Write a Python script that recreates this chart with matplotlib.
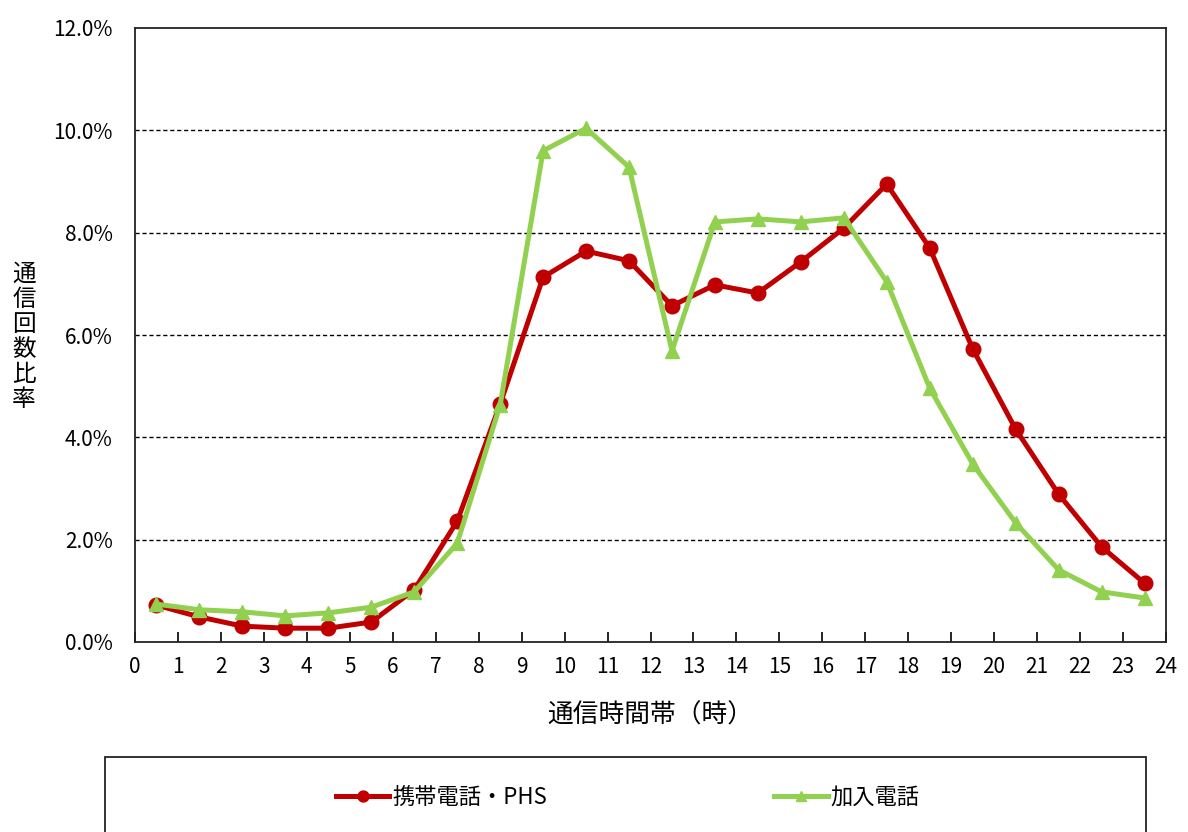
import matplotlib
matplotlib.use("Agg")
import matplotlib.pyplot as plt
from matplotlib.patches import Rectangle
from matplotlib.ticker import FuncFormatter

plt.rcParams['font.family'] = ['Noto Sans CJK JP', 'DejaVu Sans']

# Hourly call share (%), plotted at the middle of each hour
hours = [h + 0.5 for h in range(24)]
mobile = [0.72, 0.49, 0.31, 0.27, 0.27, 0.39, 1.02, 2.36, 4.65, 7.13, 7.64, 7.45,
          6.57, 6.98, 6.82, 7.43, 8.09, 8.95, 7.70, 5.73, 4.16, 2.89, 1.86, 1.15]
fixed = [0.74, 0.63, 0.59, 0.51, 0.57, 0.68, 0.98, 1.93, 4.63, 9.60, 10.04, 9.28,
         5.69, 8.21, 8.27, 8.21, 8.29, 7.04, 4.96, 3.48, 2.33, 1.41, 0.98, 0.86]
series_names = ['携帯電話・PHS', '加入電話']
x_ticks = list(range(25))
y_ticks = [0, 2, 4, 6, 8, 10, 12]

W, H = 1188, 832
fig = plt.figure(figsize=(W / 100, H / 100), dpi=100)
ax = fig.add_axes([135 / W, 1 - 642 / H, (1166 - 135) / W, (642 - 28) / H])

red = '#C00000'
green = '#92D050'
l1, = ax.plot(hours, mobile, color=red, lw=3.6, marker='o', ms=10.5,
              label=series_names[0], zorder=3)
l2, = ax.plot(hours, fixed, color=green, lw=3.6, marker='^', ms=10.5,
              label=series_names[1], zorder=4)

ax.set_xlim(0, 24)
ax.set_ylim(0, 12)
ax.set_xticks(x_ticks)
ax.set_yticks(y_ticks)
ax.yaxis.set_major_formatter(FuncFormatter(lambda v, p: f'{v:.1f}%'))
for yv in y_ticks[1:-1]:
    ax.axhline(yv, color='black', lw=1.0, ls=(0, (3, 2)), zorder=1)

for s in ax.spines.values():
    s.set_linewidth(1.3)
    s.set_color('#222222')
ax.tick_params(axis='x', direction='in', length=7, width=1.2, labelsize=15, pad=10)
ax.tick_params(axis='y', length=0, labelsize=15, pad=16)

ax.set_xlabel('通信時間帯（時）', fontsize=18.5, labelpad=18)
fig.text(24 / W, 1 - 337 / H, '\n'.join('通信回数比率'), fontsize=17,
         ha='center', va='center', linespacing=1.12)

# Legend frame running off the bottom edge
fig.patches.append(Rectangle((105 / W, -0.05), (1146 - 105) / W, 0.05 + (832 - 757) / H,
                             transform=fig.transFigure, fill=False,
                             edgecolor='#222222', lw=1.3))
fig.legend(handles=[l1, l2], loc='center', bbox_to_anchor=(628 / W, 1 - 797 / H),
           ncol=2, frameon=False, fontsize=16, handlelength=2.4,
           handletextpad=0.15, columnspacing=10.2, markerscale=0.75)

fig.savefig('out.png', dpi=100)
